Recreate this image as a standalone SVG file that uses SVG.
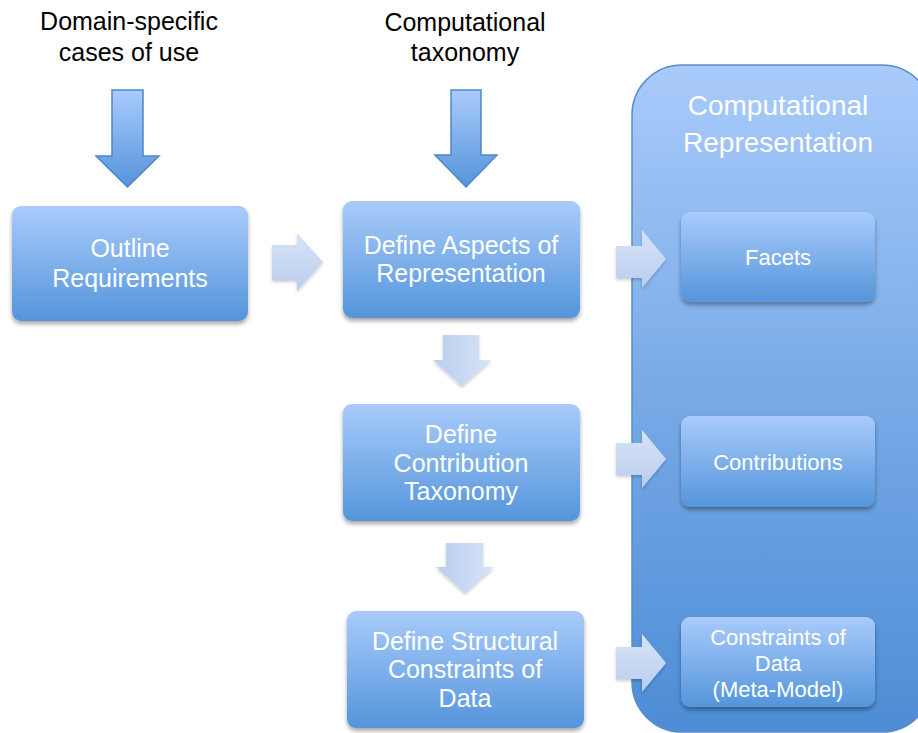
<svg xmlns="http://www.w3.org/2000/svg" width="918" height="733" viewBox="0 0 918 733">
  <defs>
    <linearGradient id="boxFill" x1="0" y1="0" x2="0" y2="1">
      <stop offset="0" stop-color="#a9cbfb"/>
      <stop offset="1" stop-color="#5495db"/>
    </linearGradient>
    <linearGradient id="panelFill" x1="0" y1="0" x2="0" y2="1">
      <stop offset="0" stop-color="#a9cbfb"/>
      <stop offset="0.5" stop-color="#77a9e6"/>
      <stop offset="1" stop-color="#4d8dd6"/>
    </linearGradient>
    <linearGradient id="bigArrowFill" x1="0" y1="0" x2="0" y2="1">
      <stop offset="0" stop-color="#a9cbfb"/>
      <stop offset="1" stop-color="#5694db"/>
    </linearGradient>
    <linearGradient id="hArrowFill" x1="0" y1="0" x2="0" y2="1">
      <stop offset="0" stop-color="#d7e4f7"/>
      <stop offset="1" stop-color="#b9cdee"/>
    </linearGradient>
    <linearGradient id="vArrowFill" x1="0" y1="0" x2="1" y2="0">
      <stop offset="0" stop-color="#b9cdee"/>
      <stop offset="1" stop-color="#d7e4f7"/>
    </linearGradient>
    <filter id="shadow" x="-10%" y="-10%" width="120%" height="130%">
      <feDropShadow dx="0" dy="3" stdDeviation="2" flood-color="#000" flood-opacity="0.35"/>
    </filter>
    <filter id="softShadow" x="-20%" y="-20%" width="140%" height="140%">
      <feDropShadow dx="0" dy="2" stdDeviation="1.5" flood-color="#000" flood-opacity="0.2"/>
    </filter>
  </defs>
  <style>
    .label { font-family: "Liberation Sans", Arial, sans-serif; font-size: 25px; fill: #000; text-anchor: middle; }
    .box { fill: url(#boxFill); filter: url(#shadow); }
    .boxText { font-family: "Liberation Sans", Arial, sans-serif; font-size: 25px; fill: #fff; text-anchor: middle; }
    .smallText { font-family: "Liberation Sans", Arial, sans-serif; font-size: 22px; fill: #fff; text-anchor: middle; }
    .titleText { font-family: "Liberation Sans", Arial, sans-serif; font-size: 28px; fill: #fff; text-anchor: middle; }
    .bigArrow { fill: url(#bigArrowFill); stroke: #4f86c6; stroke-width: 1.5; }
    .hArrow { fill: url(#hArrowFill); filter: url(#softShadow); }
    .vArrow { fill: url(#vArrowFill); filter: url(#softShadow); }
  </style>

  <rect width="918" height="733" fill="#fff"/>

  <!-- input labels -->
  <g id="label-domain">
    <text class="label" x="129" y="30">Domain-specific</text>
    <text class="label" x="129" y="61">cases of use</text>
  </g>
  <g id="label-taxonomy">
    <text class="label" x="465" y="31">Computational</text>
    <text class="label" x="465" y="61">taxonomy</text>
  </g>

  <!-- right-hand panel -->
  <g id="panel-representation">
    <rect x="632" y="65" width="300" height="667" rx="50" ry="50" fill="url(#panelFill)" stroke="#5a8cc8" stroke-width="1.5"/>
    <text class="titleText" x="778" y="115">Computational</text>
    <text class="titleText" x="778" y="152">Representation</text>
  </g>

  <g id="connectors">
    <!-- input arrows -->
    <polygon class="bigArrow" points="112,90 143,90 143,156 159,156 127.5,187 96,156 112,156"/>
    <polygon class="bigArrow" points="451,90 481,90 481,155 497,155 466,187 435,155 451,155"/>
    <!-- flow between steps -->
    <polygon class="hArrow" points="272,245 297,245 297,233 323,262 297,291 297,280 272,280"/>
    <polygon class="vArrow" points="443,335 479,335 479,360 491,360 462,386 433,360 443,360"/>
    <polygon class="vArrow" points="446,543 483,543 483,567 494,567 465,593 436,567 446,567"/>
    <!-- steps to representation -->
    <polygon class="hArrow" points="616,246 642,246 642,230 666,259 642,288 642,278 616,278"/>
    <polygon class="hArrow" points="616,443 642,443 642,430 666,459 642,488 642,475 616,475"/>
    <polygon class="hArrow" points="616,647 642,647 642,634 666,663 642,692 642,679 616,679"/>
  </g>

  <g id="node-outline">
    <rect class="box" x="12" y="206" width="236" height="115" rx="9"/>
    <text class="boxText" x="130" y="257">Outline</text>
    <text class="boxText" x="130" y="287">Requirements</text>
  </g>
  <g id="node-aspects">
    <rect class="box" x="343" y="201" width="237" height="117" rx="9"/>
    <text class="boxText" x="461" y="254">Define Aspects of</text>
    <text class="boxText" x="461" y="282">Representation</text>
  </g>
  <g id="node-contribution">
    <rect class="box" x="343" y="404" width="237" height="117" rx="9"/>
    <text class="boxText" x="461" y="443">Define</text>
    <text class="boxText" x="461" y="472">Contribution</text>
    <text class="boxText" x="461" y="500">Taxonomy</text>
  </g>
  <g id="node-structural">
    <rect class="box" x="347" y="611" width="237" height="117" rx="9"/>
    <text class="boxText" x="465" y="650">Define Structural</text>
    <text class="boxText" x="465" y="678">Constraints of</text>
    <text class="boxText" x="465" y="707">Data</text>
  </g>
  <g id="node-facets">
    <rect class="box" x="681" y="212" width="194" height="90" rx="9"/>
    <text class="smallText" x="778" y="265">Facets</text>
  </g>
  <g id="node-contributions">
    <rect class="box" x="681" y="416" width="194" height="91" rx="9"/>
    <text class="smallText" x="778" y="470">Contributions</text>
  </g>
  <g id="node-constraints">
    <rect class="box" x="681" y="617" width="194" height="90" rx="9"/>
    <text class="smallText" x="778" y="645">Constraints of</text>
    <text class="smallText" x="778" y="671">Data</text>
    <text class="smallText" x="778" y="697">(Meta-Model)</text>
  </g>
</svg>
